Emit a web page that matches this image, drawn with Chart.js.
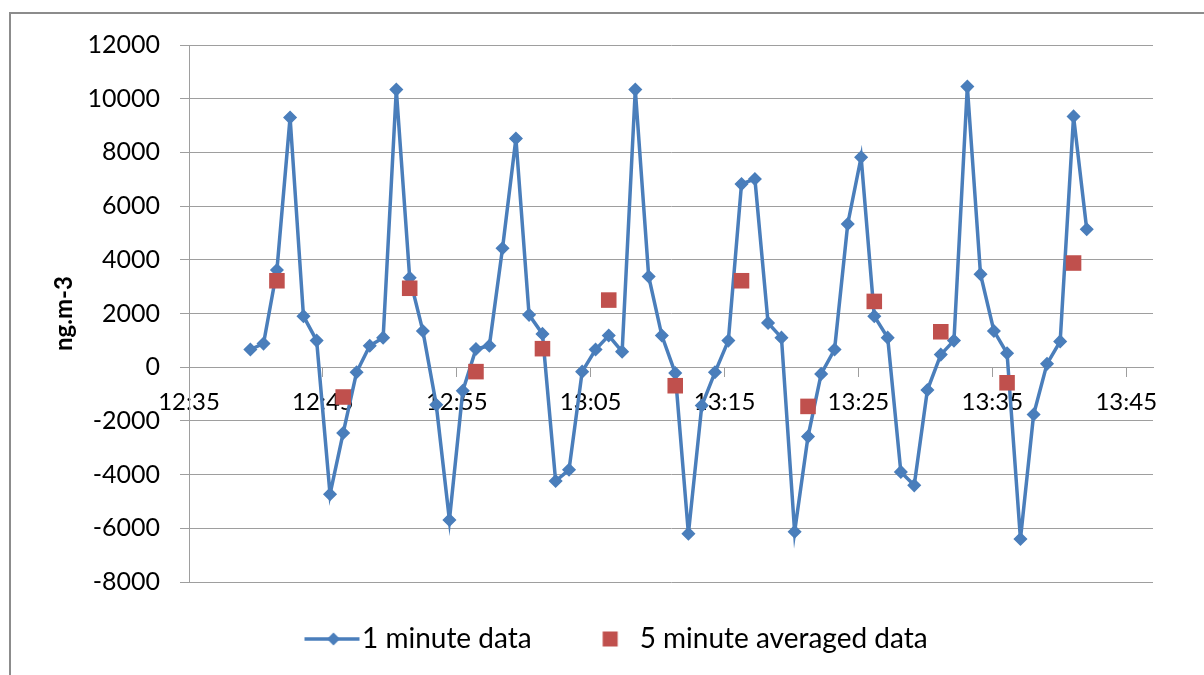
<!DOCTYPE html>
<html><head><meta charset="utf-8">
<script src="https://cdn.jsdelivr.net/npm/chart.js@4.4.1/dist/chart.umd.min.js"></script>
<style>
html,body{margin:0;padding:0;background:#fff;}
#wrap{position:relative;width:1204px;height:675px;overflow:hidden;}
#frame{position:absolute;left:9px;top:12px;width:1400px;height:900px;border:2px solid #8c8c8c;box-sizing:border-box;}
canvas{position:absolute;left:0;top:0;}
</style></head><body>
<div id="wrap"><div id="frame"></div><canvas id="c" width="1204" height="675"></canvas></div>
<script>
// ---- data ----
const minuteTimes = [
 "12:39:35","12:40:34","12:41:34","12:42:33","12:43:33","12:44:32","12:45:32","12:46:31",
 "12:47:31","12:48:30","12:49:30","12:50:29","12:51:29","12:52:28","12:53:28","12:54:27",
 "12:55:27","12:56:26","12:57:26","12:58:25","12:59:25","13:00:24","13:01:24","13:02:23",
 "13:03:23","13:04:22","13:05:22","13:06:21","13:07:21","13:08:20","13:09:20","13:10:19",
 "13:11:19","13:12:18","13:13:18","13:14:17","13:15:17","13:16:16","13:17:16","13:18:15",
 "13:19:15","13:20:14","13:21:14","13:22:13","13:23:13","13:24:12","13:25:12","13:26:11",
 "13:27:11","13:28:10","13:29:10","13:30:09","13:31:09","13:32:08","13:33:08","13:34:07",
 "13:35:07","13:36:06","13:37:06","13:38:05","13:39:05","13:40:04","13:41:04","13:42:03"];
const minuteValues = [
 660, 880, 3620, 9300, 1900, 990, -4730, -2450,
 -190, 800, 1100, 10340, 3330, 1350, -1400, -5690,
 -880, 680, 800, 4430, 8520, 1950, 1240, -4240,
 -3820, -165, 660, 1180, 580, 10340, 3380, 1180,
 -220, -6200, -1430, -190, 990, 6820, 7010, 1650,
 1100, -6130, -2585, -250, 660, 5335, 7820, 1900,
 1100, -3900, -4400, -850, 470, 990, 10450, 3465,
 1350, 520, -6400, -1760, 125, 960, 9340, 5140];
const avgTimes = ["12:41:34","12:46:31","12:51:29","12:56:26","13:01:24","13:06:21","13:11:19",
 "13:16:16","13:21:14","13:26:11","13:31:09","13:36:06","13:41:04"];
const avgValues = [3220, -1110, 2940, -165, 690, 2500, -690, 3220, -1460, 2450, 1320, -580, 3880];
const xTickLabels = ["12:35","12:45","12:55","13:05","13:15","13:25","13:35","13:45"];
const seriesNames = ["1 minute data", "5 minute averaged data"];
const yTitle = "ng.m-3";

// ---- helpers ----
const ORIGIN = 12*60 + 35;
function toMin(t){ const p = t.split(':').map(Number); return p[0]*60 + p[1] + p[2]/60 - ORIGIN; }
const BLUE = '#4A7EBB', RED = '#C0504D', GRID = '#9e9e9e';
const FONT = 'Lato';
const LEG_FS = 28, LEG_BOX = 51, LEG_PAD = 43;

// legend symbols (image is centred on the legend box centre)
function makeLineSym(){
  const c = document.createElement('canvas'); c.width = 120; c.height = 24;
  const g = c.getContext('2d');
  g.strokeStyle = BLUE; g.lineWidth = 3.5;
  g.beginPath(); g.moveTo(42, 12); g.lineTo(97, 12); g.stroke();
  g.fillStyle = BLUE; g.beginPath();
  const cx = 71, cy = 12, r = 6.5;
  g.moveTo(cx, cy - r); g.lineTo(cx + r, cy); g.lineTo(cx, cy + r); g.lineTo(cx - r, cy); g.closePath(); g.fill();
  return c;
}
function makeSquareSym(){
  const c = document.createElement('canvas'); c.width = 120; c.height = 24;
  const g = c.getContext('2d');
  g.fillStyle = RED; g.fillRect(62.5, 4.5, 15, 15);
  return c;
}
const lineSym = makeLineSym(), squareSym = makeSquareSym();

const LEGEND_TEXT_X = 362;
const legendShift = {
  id: 'legendShift',
  afterLayout(chart){
    const lg = chart.legend; if (!lg || !lg.lineWidths) return;
    const o = lg.options.labels;
    const cur = (lg.left + o.padding + lg.right - lg.lineWidths[0]) / 2;
    const want = LEGEND_TEXT_X - o.pointStyleWidth - o.font.size / 2;
    const d = want - cur;
    lg.left += d; lg.right += d;
  }
};

Chart.defaults.font.family = FONT;
Chart.defaults.color = '#000';

new Chart(document.getElementById('c'), {
  type: 'line',
  data: {
    datasets: [
      {
        label: seriesNames[0],
        data: minuteTimes.map((t, i) => ({x: toMin(t), y: minuteValues[i]})),
        borderColor: BLUE, backgroundColor: BLUE,
        borderWidth: 3.5, tension: 0,
        pointStyle: 'rectRot', pointRadius: 6, pointBorderWidth: 1.5,
        pointBackgroundColor: BLUE, pointBorderColor: BLUE,
        order: 1
      },
      {
        label: seriesNames[1],
        data: avgTimes.map((t, i) => ({x: toMin(t), y: avgValues[i]})),
        showLine: false,
        backgroundColor: RED, borderColor: RED,
        pointStyle: 'rect', pointRadius: 11, pointBorderWidth: 0,
        order: 0
      }
    ]
  },
  options: {
    responsive: false, animation: false,
    layout: { padding: { left: 0, right: 51, top: 45, bottom: 12 } },
    scales: {
      x: {
        type: 'linear', position: { y: 0 },
        min: 0, max: 72,
        grid: { drawOnChartArea: false, drawTicks: true, tickLength: 9, color: GRID, lineWidth: 1 },
        border: { display: true, color: GRID, width: 1 },
        ticks: {
          stepSize: 10, includeBounds: false, autoSkip: false, maxRotation: 0, padding: 12,
          font: { size: 24, family: FONT }, color: '#000',
          callback: (v) => xTickLabels[Math.round(v / 10)] ?? ''
        }
      },
      y: {
        min: -8000, max: 12000,
        grid: { color: GRID, lineWidth: 1, tickLength: 9, drawTicks: true },
        border: { display: true, color: GRID, width: 1 },
        ticks: { stepSize: 2000, padding: 20, font: { size: 25, family: FONT }, color: '#000',
                 callback: (v) => String(v) },
        title: { display: true, text: yTitle, font: { size: 24, weight: 'bold', family: FONT }, color: '#000', padding: { top: 50, bottom: 0 } },
        afterFit(scale){ scale.width = 189; }
      }
    },
    plugins: {
      tooltip: { enabled: false },
      legend: {
        display: true, position: 'bottom',
        labels: {
          usePointStyle: true, pointStyleWidth: LEG_BOX, padding: LEG_PAD,
          font: { size: LEG_FS, family: FONT }, color: '#000',
          generateLabels: (chart) => chart.data.datasets.map((ds, i) => ({
            text: ds.label, datasetIndex: i, hidden: false,
            pointStyle: i === 0 ? lineSym : squareSym,
            fillStyle: i === 0 ? BLUE : RED, strokeStyle: i === 0 ? BLUE : RED, lineWidth: 0
          }))
        }
      }
    }
  },
  plugins: [legendShift]
});
</script>
</body></html>
